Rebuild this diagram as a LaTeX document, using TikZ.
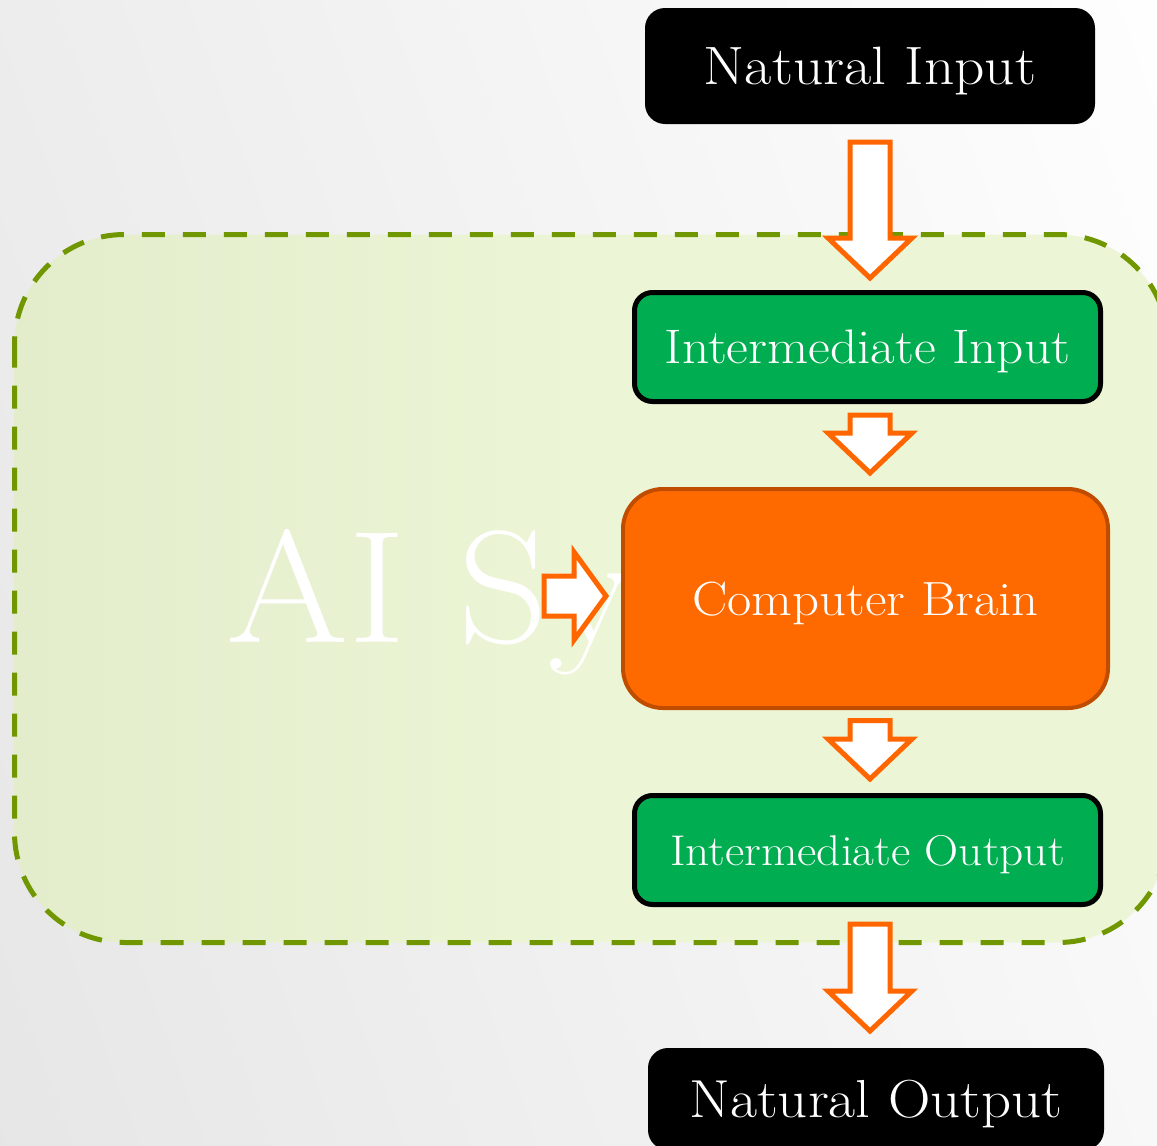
\documentclass[tikz,border=0pt]{standalone}
\usepackage{fontspec}
\setmainfont{Latin Modern Roman}[FakeStretch=1.1]
\usetikzlibrary{positioning, calc}

\definecolor{arrowor}{RGB}{255,102,0}
\definecolor{brainor}{RGB}{255,106,0}
\definecolor{braindraw}{RGB}{192,76,0}
\definecolor{boxgreen}{RGB}{0,173,80}
\definecolor{dashgreen}{RGB}{112,150,0}
\definecolor{aifillL}{RGB}{227,236,203}
\definecolor{aifillR}{RGB}{236,246,214}

\tikzset{
  flowbox/.style={rectangle, rounded corners=18, inner sep=0, text=white, text depth=0pt, line width=5},
  natbox/.style={flowbox, fill=black, rounded corners=20},
  midbox/.style={flowbox, draw=black, fill=boxgreen, minimum width=466, minimum height=109},
  flowarrow/.style={draw=arrowor, fill=white, line width=5},
  aiframe/.style={draw=dashgreen, line width=5, dash pattern=on 23 off 18, rounded corners=110,
    left color=aifillL, right color=aifillR, middle color=aifillR},
}

% block arrow pointing down: #1 top of shaft, #2 tip
\newcommand{\downflow}[2]{%
  \draw[flowarrow] (#2) -- ++(-42,-40) -- ++(22,0) |- ($(#1)+(-20,0)$) -- ++(40,0) |- ($(#2)+(42,-40)$) -- cycle;}

\begin{document}
\begin{tikzpicture}[x=1pt, y=-1pt]
\useasboundingbox (0,0) rectangle (1157,1146);
\clip (0,0) rectangle (1157,1146);
\shade[left color=black!10, middle color=black!1, right color=white, shading angle=110] (-300,0) rectangle (1457,1146);

% AI system frame
\draw[aiframe] (14.5,234.5) rectangle (1168,942.5);
\node[anchor=base west, inner sep=0, text=white, font=\fontsize{160}{160}\selectfont] (aititle) at (226,642) {AI Sy};

% boxes
\node[natbox, minimum width=450, minimum height=116, font=\fontsize{54}{60}\selectfont] (natin) at (870,66) {Natural Input};
\node[midbox, font=\fontsize{48.5}{56}\selectfont] (intin) at (867.5,347) {Intermediate Input};
\node[flowbox, draw=braindraw, fill=brainor, line width=4, rounded corners=40, minimum width=485, minimum height=219,
  font=\fontsize{48}{56}\selectfont] (brain) at (865.5,598.5) {Computer Brain};
\node[midbox, font=\fontsize{43}{50}\selectfont] (intout) at (867.5,850) {Intermediate Output};
\node[natbox, minimum width=456, minimum height=102, font=\fontsize{53.5}{60}\selectfont] (natout) at (876,1099) {Natural Output};

% arrows
\coordinate (a1top) at ($(natin.south)+(0,15.5)$);
\coordinate (a1tip) at ($(intin.north)+(2.5,-12)$);
\coordinate (a2top) at ($(intin.south)+(2.5,11)$);
\coordinate (a2tip) at ($(brain.north)+(4.5,-14)$);
\coordinate (a3top) at ($(brain.south)+(4.5,10.5)$);
\coordinate (a3tip) at ($(intout.north)+(2.5,-14)$);
\coordinate (a4top) at ($(intout.south)+(2.5,17)$);
\coordinate (a4tip) at ($(natout.north)+(-6,-14.5)$);
\downflow{a1top}{a1tip}
\downflow{a2top}{a2tip}
\downflow{a3top}{a3tip}
\downflow{a4top}{a4tip}

\coordinate (sidetail) at (544,596);
\coordinate (sidetip) at ($(brain.west)+(-15,-2.5)$);
\draw[flowarrow] (sidetip) -- ++(-32,-44) -- ++(0,24) -| ($(sidetail)+(0,-20)$) -- ++(0,40)
  -| ($(sidetip)+(-32,44)$) -- cycle;
\end{tikzpicture}
\end{document}
